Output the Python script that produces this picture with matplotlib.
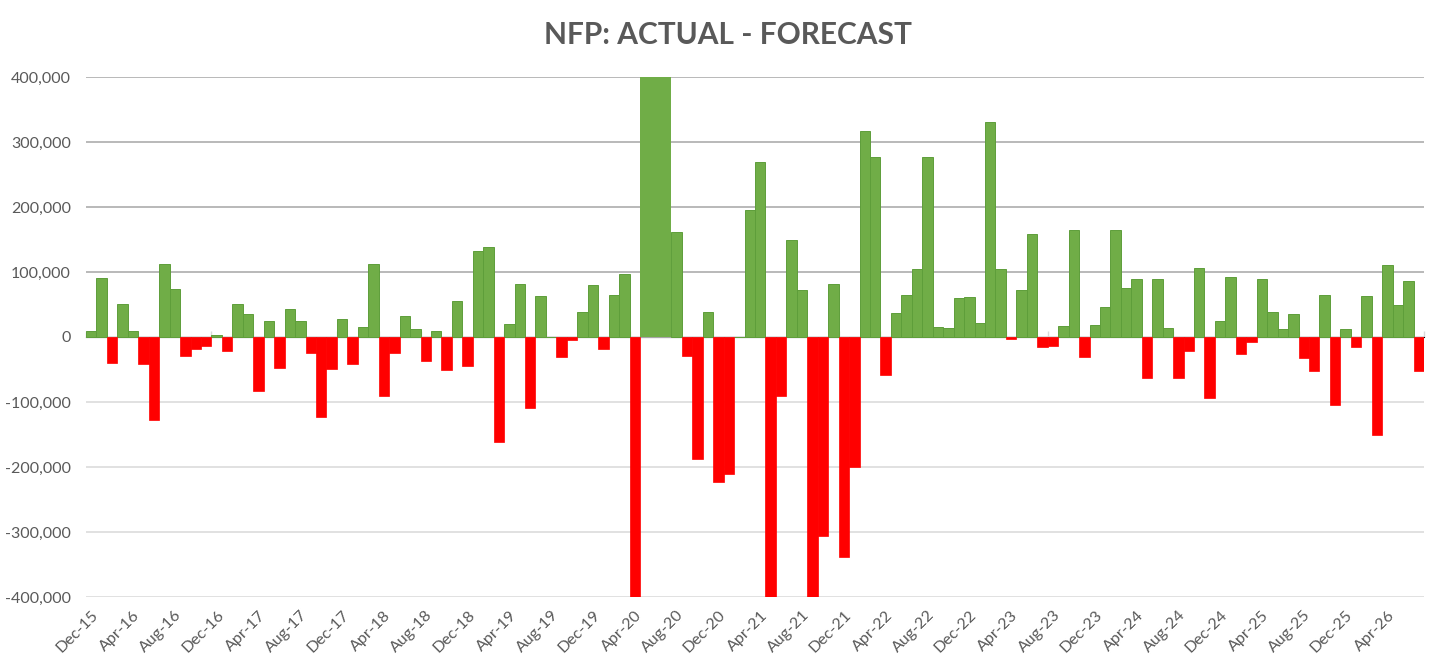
import numpy as np
import pandas as pd
from matplotlib import pyplot as plt

# monthly NFP surprise (actual - forecast), Dec-15 .. Jul-26
start_month = '2015-12'
surprise = [
    10000, 91000, -39500, 51000, 9000, -42000, -127000, 112000, 74000, -29000,
    -19000, -14000, 2500, -21500, 51000, 35000, -83000, 25000, -48000, 43000,
    25000, -25000, -123000, -49000, 28000, -42000, 15000, 112000, -90000, -25000,
    33000, 13000, -37000, 9000, -51000, 56000, -44000, 133000, 139000, -162000,
    20000, 82000, -109000, 63000, 0, -30000, -4000, 39000, 80000, -19000,
    65000, 97000, -400000, 400000, 400000, 400000, 162000, -28500, -188000, 38000,
    -223000, -210000, 0, 196000, 269000, -400000, -90000, 150000, 73000, -400000,
    -306000, 81000, -339000, -200000, 317000, 277000, -59000, 37000, 65000, 104000,
    277000, 15000, 13500, 60500, 61500, 22000, 331000, 105000, -2500, 73000,
    158000, -16000, -14000, 17000, 164000, -30000, 18000, 46000, 164000, 76000,
    90000, -62500, 89000, 14000, -62500, -21500, 106000, -94000, 24000, 92000,
    -25600, -8000, 90000, 38500, 13000, 36000, -32000, -53000, 65000, -104600,
    13000, -16000, 62600, -150000, 111000, 49000, 86000, -53000,
]
months = pd.period_range(start_month, periods=len(surprise), freq='M')
month_labels = [m.strftime('%b-%y') for m in months]
label_step = 4
y_max = 400000

FONT = 'Lato'
TEXT = '#595959'

fig = plt.figure(figsize=(14.56, 6.67), dpi=100)
ax = fig.add_axes([86 / 1456, 1 - 597 / 667, 1338 / 1456, 520 / 667])

vals = np.array(surprise, dtype=float)
x = np.arange(len(vals))
pos = vals >= 0

# bars running off the top of the scale show no outline in the original
edge_w = np.where(vals[pos] >= y_max, 0.0, 0.7)
ax.bar(x[pos], vals[pos], width=1.0, color='#70AD47', edgecolor='#5E9E3A',
       linewidth=edge_w, zorder=3)
ax.bar(x[~pos], vals[~pos], width=1.0, color='#FF0000', edgecolor='#FF0000',
       linewidth=0.5, zorder=3)

ax.set_xlim(-0.5, len(vals) - 0.5)
ax.set_ylim(-y_max, y_max)

yt = np.arange(-y_max, y_max + 1, 100000)
ax.set_yticks(yt)
ax.set_yticklabels([f'{v:,.0f}' for v in yt], fontsize=11.5, color=TEXT,
                   family=FONT)
for v in yt:
    col = '#A6A6A6' if v > 0 else '#D9D9D9'
    ax.axhline(v, color=col, lw=1.1, zorder=1)
ax.tick_params(axis='y', length=0, pad=11)

ax.set_xticks(x[::label_step])
ax.set_xticklabels(month_labels[::label_step], rotation=45, ha='right',
                   rotation_mode='anchor', fontsize=11.5, color=TEXT,
                   family=FONT)
ax.tick_params(axis='x', length=0, pad=8)

for s in ax.spines.values():
    s.set_visible(False)

# category axis crossing at zero, with its tick marks
sec = ax.secondary_xaxis(0.5)
sec.set_xticks(np.arange(-0.5, len(vals), label_step))
sec.set_xticklabels([])
sec.tick_params(axis='x', length=4, width=1, color='#D9D9D9', direction='out')
sec.spines['bottom'].set_color('#D9D9D9')
sec.spines['bottom'].set_linewidth(1.1)

fig.text(0.5, 1 - 35 / 667, 'NFP: ACTUAL - FORECAST', ha='center', va='center',
         fontsize=21.5, fontweight='bold', color=TEXT, family=FONT)

fig.savefig('out.png', dpi=100, facecolor='white')
